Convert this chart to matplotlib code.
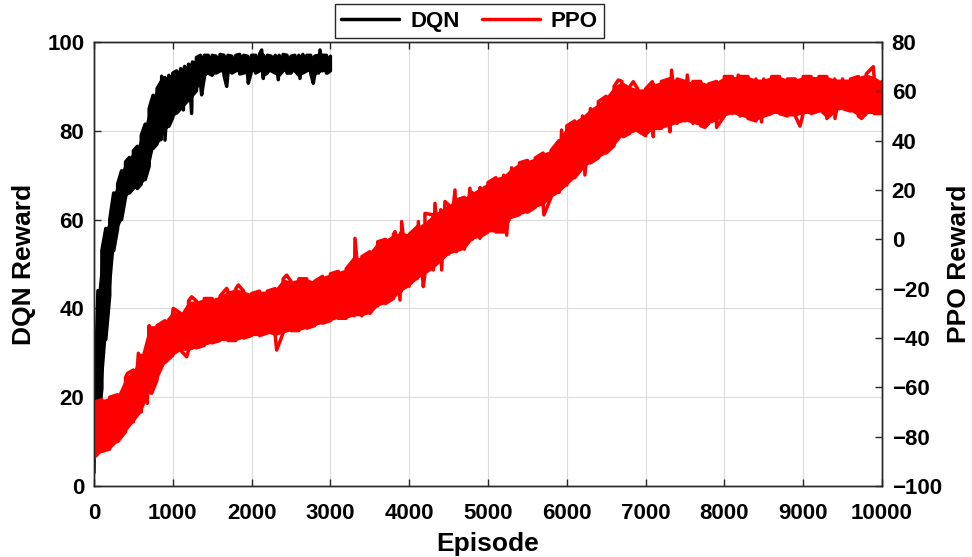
import numpy as np
import matplotlib.pyplot as plt

plt.rcParams['font.family'] = ['Liberation Sans', 'DejaVu Sans']
plt.rcParams['font.weight'] = 'bold'

# DQN reward band (left axis), sampled every 50 episodes
dqn_ep = np.arange(0, 3001, 50)
dqn_lo = [3, 13, 22, 33, 43, 53, 58, 60, 65, 66, 67, 67, 68, 69, 72, 76, 77, 78, 80, 81,
          83, 84, 85, 86, 87, 88, 89, 91, 92, 93, 92.5, 93, 93.5, 92.5, 93, 93, 93.5, 92.8, 93, 92.5,
          93.5, 93, 93.5, 92.5, 93, 93.5, 93, 92.5, 93.5, 93, 93, 93.5, 92.5, 93, 93.5, 93, 92.5, 93, 93.5, 93,
          93.5]
dqn_hi = [14, 44, 53, 58, 60, 66, 68, 71, 73, 74, 75.5, 76.5, 79, 81.5, 85, 88, 89.5, 91, 92, 92.5,
          93, 93.5, 94, 94.5, 95, 95.5, 96.5, 97, 97, 97, 97, 96.8, 97.2, 97, 97, 96.8, 97, 97.2, 97, 96.8,
          97, 97, 97.2, 97, 97, 96.8, 97, 97, 97.2, 97, 96.8, 97, 97, 97.2, 97, 97, 96.8, 97, 97, 97,
          96.8]
dqn_spike_ep = [859, 901, 1134, 1239, 1366, 1684, 1958, 2128, 2149, 2339, 2614, 2783, 2868, 2961]
dqn_spike_val = [92.3, 77.9, 84.7, 83.9, 88.1, 90.0, 90.7, 98.2, 91.8, 91.5, 91.8, 90.7, 98.2, 93.0]

# PPO reward band (right axis), sampled every 100 episodes
ppo_ep = np.arange(0, 10001, 100)
ppo_lo = [-89, -86, -85, -82, -78, -74, -70, -62, -57, -50,
          -47, -45, -45, -44, -43, -42, -41, -41, -41, -40,
          -39, -39, -38, -39, -38, -37, -37, -36, -35, -34,
          -33, -32, -32, -31, -31, -30, -27, -26, -24, -21,
          -19, -16, -14, -12, -9, -6, -5, -4, 0, 1,
          3, 3, 3, 9, 10, 11, 13, 14, 17, 19,
          22, 25, 29, 31, 33, 35, 38, 42, 43, 44,
          42, 45, 45, 46, 47, 48, 47, 46, 47, 48,
          50, 51, 50, 49, 48, 50, 51, 51, 50, 50,
          51, 51, 52, 49, 52, 53, 52, 50, 51, 51,
          51]
ppo_hi = [-66, -65, -64, -63, -56, -53, -47, -35, -35, -33,
          -29, -30, -25, -25, -24, -24, -23, -21, -20, -21,
          -22, -21, -21, -20, -16, -17, -16, -16, -17, -15,
          -14, -13, -12, -8, -7, -5, -1, 0, 2, 3,
          2, 5, 7, 10, 12, 14, 16, 17, 19, 21,
          23, 25, 26, 29, 31, 32, 33, 35, 36, 40,
          46, 48, 50, 53, 55, 58, 62, 64, 62, 61,
          61, 63, 64, 65, 65, 64, 64, 64, 63, 64,
          66, 66, 66, 66, 65, 65, 66, 66, 65, 65,
          66, 66, 66, 66, 65, 65, 65, 66, 67, 66,
          64]
ppo_spike_ep = [427, 563, 677, 732, 1007, 1176, 1239, 1684, 1832, 2318, 2445,
                3312, 3587, 3820, 3883, 3904, 4116, 4179, 4200, 4306, 4327, 4412, 4454,
                4581, 4771, 4898, 5237, 5710, 5934, 6230, 6400, 6654, 6717, 6844,
                7085, 7098, 7309, 7330, 7529, 7753, 7901, 8176, 8472, 8959, 9403, 9741, 9889]
ppo_spike_val = [-54.3, -46.2, -66.5, -62.4, -28.0, -47.6, -23.3, -19.9, -18.5, -44.9, -14.5,
                 0.4, -26.6, 3.1, -24.6, 7.2, 7.2, -19.2, 10.5, -12.4, 14.6, -12.4, 15.3,
                 20.0, 20.7, 0.4, 1.7, 9.9, 44.3, 26.1, 55.8, 64.6, 41.6, 63.9,
                 63.9, 41.6, 43.6, 68.6, 66.6, 45.4, 45.4, 66.6, 47.6, 45.9, 49.0, 49.0, 70.0]


def trace(ep, lo, hi, sp_ep, sp_val):
    # zig-zag between the lower and upper edge, with the spikes merged in
    pts = []
    for i, (e, l, h) in enumerate(zip(ep, lo, hi)):
        a, b = (l, h) if i % 2 == 0 else (h, l)
        pts.append((e, 0, a))
        pts.append((e, 1, b))
    pts += [(e, 2, v) for e, v in zip(sp_ep, sp_val)]
    pts.sort(key=lambda p: (p[0], p[1]))
    return [p[0] for p in pts], [p[2] for p in pts]


fig = plt.figure(figsize=(9.72, 5.57), dpi=100)
ax = fig.add_axes([0.0967, 0.1275, 0.8107, 0.7971])
ax2 = ax.twinx()

x, y = trace(dqn_ep, dqn_lo, dqn_hi, dqn_spike_ep, dqn_spike_val)
ax.fill_between(dqn_ep, dqn_lo, dqn_hi, color='black', lw=0)
l1, = ax.plot(x, y, color='black', lw=2.5, solid_joinstyle='round', solid_capstyle='round', label='DQN')

x, y = trace(ppo_ep, ppo_lo, ppo_hi, ppo_spike_ep, ppo_spike_val)
ax2.fill_between(ppo_ep, ppo_lo, ppo_hi, color='#ff0000', lw=0)
l2, = ax2.plot(x, y, color='#ff0000', lw=2.5, solid_joinstyle='round', solid_capstyle='round', label='PPO')

ax.set_xlim(0, 10000)
ax.set_ylim(0, 100)
ax2.set_ylim(-100, 80)
ax.set_xticks(np.arange(0, 10001, 1000))
ax.set_yticks(np.arange(0, 101, 20))
ax2.set_yticks(np.arange(-100, 81, 20))

ax.grid(True, color='#dcdcdc', lw=0.8)
ax.set_axisbelow(True)

ax.tick_params(axis='both', direction='in', length=5, width=1, labelsize=16, top=True, color='#262626')
ax.tick_params(axis='x', pad=12)
ax.tick_params(axis='y', pad=7)
ax2.tick_params(axis='y', direction='in', length=5, width=1, labelsize=16, pad=7, color='#262626')
for a in (ax, ax2):
    for s in a.spines.values():
        s.set_color('#262626')
        s.set_linewidth(1)
    for lab in a.get_xticklabels() + a.get_yticklabels():
        lab.set_fontweight('bold')

ax.set_xlabel('Episode', fontsize=19, fontweight='bold', labelpad=6)
ax.set_ylabel('DQN Reward', fontsize=19, fontweight='bold', labelpad=8)
ax2.set_ylabel('PPO Reward', fontsize=19, fontweight='bold', labelpad=4)

fig.legend(handles=[l1, l2], loc='upper center', bbox_to_anchor=(0.483, 0.993), ncol=2,
           frameon=True, fancybox=False, edgecolor='#262626', framealpha=1,
           handlelength=2.6, columnspacing=1.0, handletextpad=0.5, borderpad=0.3,
           borderaxespad=0, prop={'weight': 'bold', 'size': 16})

fig.savefig('out.png', dpi=100)
